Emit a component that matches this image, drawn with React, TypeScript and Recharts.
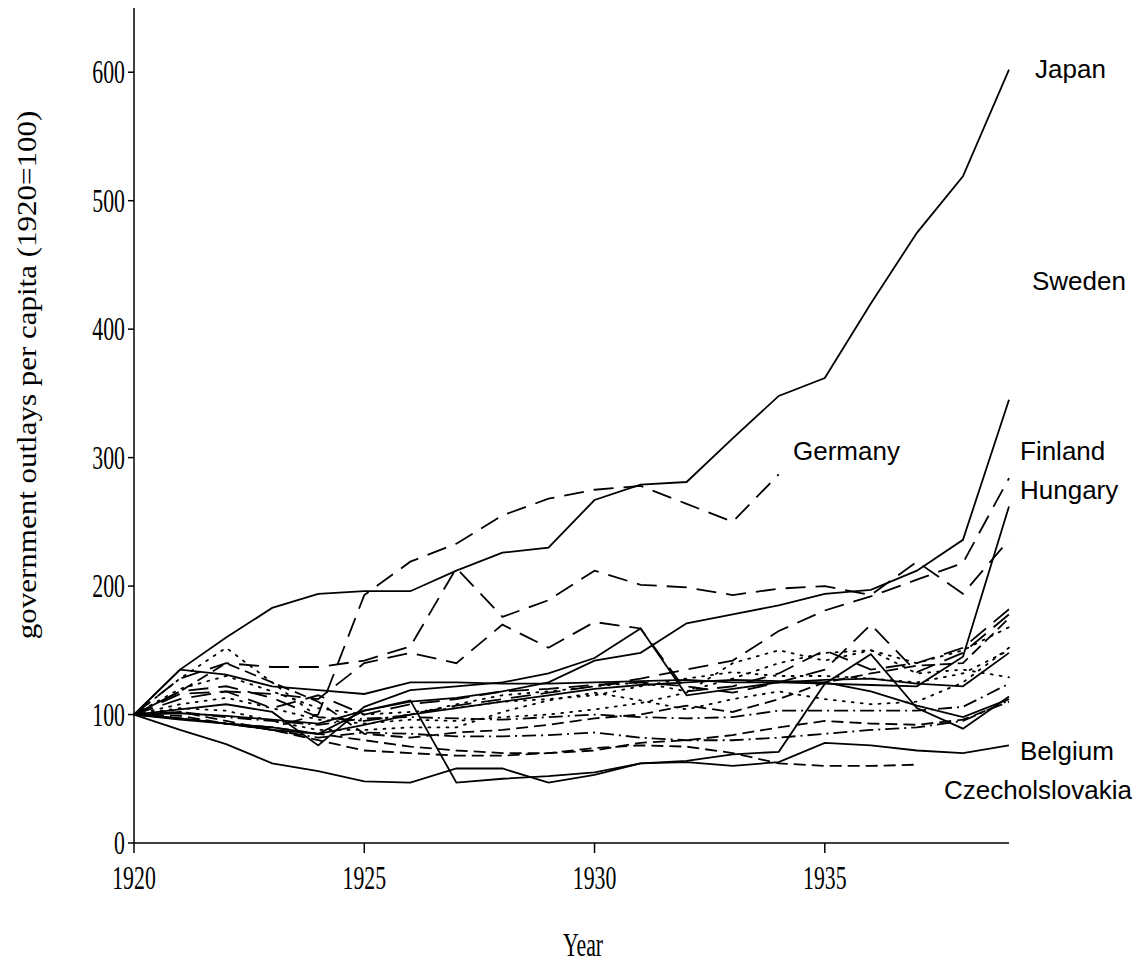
import React from 'react';
import { LineChart, Line, XAxis, YAxis } from 'recharts';

const years = [1920, 1921, 1922, 1923, 1924, 1925, 1926, 1927, 1928, 1929, 1930, 1931, 1932, 1933, 1934, 1935, 1936, 1937, 1938, 1939];

// index values, 1920 = 100
const japan = [100, 135, 160, 183, 194, 196, 196, 212, 226, 230, 267, 279, 281, 315, 348, 362, 420, 475, 519, 602];
const germany = [100, 97, 93, 90, 100, 193, 219, 233, 255, 268, 275, 278, 264, 250, 287, null, null, null, null, null];
const sweden = [100, 101, 99, 96, 93, 103, 110, 113, 118, 125, 142, 148, 171, 178, 185, 194, 197, 212, 236, 345];
const finland = [100, 118, 122, 113, 98, 95, 100, 107, 112, 117, 122, 128, 135, 142, 165, 181, 192, 205, 218, 284];
const hungary = [100, 135, 131, 122, 119, 116, 125, 125, 124, 124, 125, 126, 127, 125, 125, 124, 123, 122, 145, 262];
const belgium = [100, 97, 93, 88, 85, 103, 111, 47, 50, 52, 55, 62, 63, 60, 63, 78, 76, 72, 70, 76];
const czechoslovakia = [100, 102, 95, 88, 80, 72, 70, 68, 68, 70, 74, 76, 75, 70, 62, 60, 60, 61, null, null];
const seriesA = [100, 128, 140, 137, 137, 142, 153, 214, 176, 189, 212, 201, 199, 193, 198, 200, 193, 219, 194, 236];
const seriesB = [100, 112, 118, 116, 112, 140, 148, 140, 170, 152, 172, 167, 118, 122, 132, 150, 135, 140, 152, 182];
const seriesC = [100, 88, 77, 62, 56, 48, 47, 58, 58, 47, 53, 62, 64, 69, 71, 124, 147, 105, 89, 114];
const seriesD = [100, 104, 108, 102, 76, 106, 119, 122, 125, 132, 144, 167, 115, 120, 125, 127, 128, 124, 122, 148];
const seriesE = [100, 128, 152, 125, 98, 95, 100, 108, 115, 118, 122, 125, 118, 128, 140, 148, 150, 140, 150, 168];
const seriesF = [100, 105, 103, 95, 88, 88, 90, 90, 102, 111, 117, 111, 104, 112, 118, 112, 108, 110, 125, 152];
const seriesG = [100, 108, 113, 105, 96, 93, 96, 95, 98, 100, 104, 109, 117, 140, 150, 142, 150, 132, 135, 129];
const seriesH = [100, 97, 93, 88, 82, 86, 85, 83, 83, 84, 86, 82, 80, 80, 82, 85, 88, 90, 95, 111];
const seriesI = [100, 102, 98, 95, 92, 97, 98, 97, 96, 98, 100, 98, 97, 98, 103, 103, 103, 103, 106, 124];
const seriesJ = [100, 116, 118, 105, 115, 100, 108, 112, 118, 120, 123, 125, 122, 117, 125, 135, 170, 133, 148, 178];
const seriesK = [100, 99, 93, 90, 85, 80, 75, 72, 70, 70, 72, 78, 80, 84, 90, 95, 93, 92, 96, 110];
const seriesL = [100, 96, 93, 90, 85, 92, 100, 105, 110, 115, 120, 123, 125, 127, 126, 125, 118, 107, 98, 112];
const seriesM = [100, 120, 130, 118, 105, 100, 102, 105, 110, 112, 115, 122, 128, 133, 130, 130, 128, 125, 132, 150];
const seriesN = [100, 118, 140, 125, 110, 85, 82, 86, 88, 92, 97, 100, 107, 102, 112, 125, 132, 138, 140, 175];

const yTicks = [0, 100, 200, 300, 400, 500, 600];
const xTicks = [1920, 1925, 1930, 1935];

const countryLabels = ['Japan', 'Sweden', 'Germany', 'Finland', 'Hungary', 'Belgium', 'Czecholslovakia'];

const SOLID = undefined;
const LONG = '20 10';
const MED = '12 6';
const DOT = '2 7';
const DASHDOT = '14 5 2 5';

const series: { key: string; values: (number | null)[] }[] = [
  { key: 'japan', values: japan },
  { key: 'germany', values: germany },
  { key: 'sweden', values: sweden },
  { key: 'finland', values: finland },
  { key: 'hungary', values: hungary },
  { key: 'belgium', values: belgium },
  { key: 'czechoslovakia', values: czechoslovakia },
  { key: 'a', values: seriesA },
  { key: 'b', values: seriesB },
  { key: 'c', values: seriesC },
  { key: 'd', values: seriesD },
  { key: 'e', values: seriesE },
  { key: 'f', values: seriesF },
  { key: 'g', values: seriesG },
  { key: 'h', values: seriesH },
  { key: 'i', values: seriesI },
  { key: 'j', values: seriesJ },
  { key: 'k', values: seriesK },
  { key: 'l', values: seriesL },
  { key: 'm', values: seriesM },
  { key: 'n', values: seriesN },
];

const dashes: Record<string, string | undefined> = {
  japan: SOLID, germany: LONG, sweden: SOLID, finland: LONG, hungary: SOLID,
  belgium: SOLID, czechoslovakia: MED, a: LONG, b: LONG, c: SOLID, d: SOLID,
  e: DOT, f: DOT, g: DOT, h: DASHDOT, i: DASHDOT, j: LONG, k: MED, l: SOLID,
  m: DOT, n: MED,
};

// label anchors inside the svg (x, baseline y)
const labelPos: [number, number][] = [
  [1027, 70], [1024, 282], [785, 452], [1012, 452], [1012, 491], [1012, 752], [936, 791],
];

const data = years.map((year, i) => {
  const row: Record<string, number | null> = { year };
  series.forEach((s) => { row[s.key] = s.values[i]; });
  return row;
});

const serif = '"Liberation Serif", "Times New Roman", serif';
const sans = '"Liberation Sans", Arial, sans-serif';

// the printed figure's serif text is tall and narrow
const SQUEEZE = 0.66;
const SERIF_SIZE = 33;

const XTick = (props: any) => {
  const { x, y, payload } = props;
  return (
    <text transform={`translate(${x},${y}) scale(${SQUEEZE},1)`} textAnchor="middle" dy="0.71em"
      fontFamily={serif} fontSize={SERIF_SIZE} fill="#000">
      {payload.value}
    </text>
  );
};

const YTick = (props: any) => {
  const { x, y, payload } = props;
  return (
    <text transform={`translate(${x},${y}) scale(${SQUEEZE},1)`} textAnchor="end" dy="0.34em"
      fontFamily={serif} fontSize={SERIF_SIZE} fill="#000">
      {payload.value}
    </text>
  );
};

export default function App() {
  const W = 1136;
  const H = 957;
  return (
    <div style={{ position: 'relative', width: W, height: H }}>
      <LineChart width={W} height={H} data={data} margin={{ top: 0, right: 135, bottom: 0, left: 0 }}>
        <XAxis
          dataKey="year"
          type="number"
          domain={[1920, 1939]}
          ticks={xTicks}
          height={122}
          tickSize={10}
          tickMargin={13}
          stroke="#000"
          strokeWidth={1.5}
          tick={<XTick />}
        />
        <YAxis
          type="number"
          domain={[0, 650]}
          ticks={yTicks}
          width={126}
          tickSize={6}
          tickMargin={3}
          stroke="#000"
          strokeWidth={1.5}
          tick={<YTick />}
        />
        {series.map((s) => (
          <Line
            key={s.key}
            dataKey={s.key}
            type="linear"
            stroke="#000"
            strokeWidth={1.8}
            strokeDasharray={dashes[s.key]}
            strokeLinecap={dashes[s.key] === DOT ? 'round' : 'butt'}
            dot={false}
            activeDot={false}
            isAnimationActive={false}
          />
        ))}
      </LineChart>
      <svg width={W} height={H} style={{ position: 'absolute', left: 0, top: 0, pointerEvents: 'none' }}>
        <text
          transform="translate(28,367) rotate(-90) scale(1,0.85)"
          textAnchor="middle"
          fontFamily={serif}
          fontSize={31}
          fill="#000"
        >
          government outlays per capita (1920=100)
        </text>
        <text transform={`translate(575,948) scale(${SQUEEZE},1)`} textAnchor="middle" fontFamily={serif} fontSize={SERIF_SIZE} fill="#000">
          Year
        </text>
        {countryLabels.map((name, i) => (
          <text key={name} x={labelPos[i][0]} y={labelPos[i][1]} fontFamily={sans} fontSize={26} fill="#000">
            {name}
          </text>
        ))}
      </svg>
    </div>
  );
}
